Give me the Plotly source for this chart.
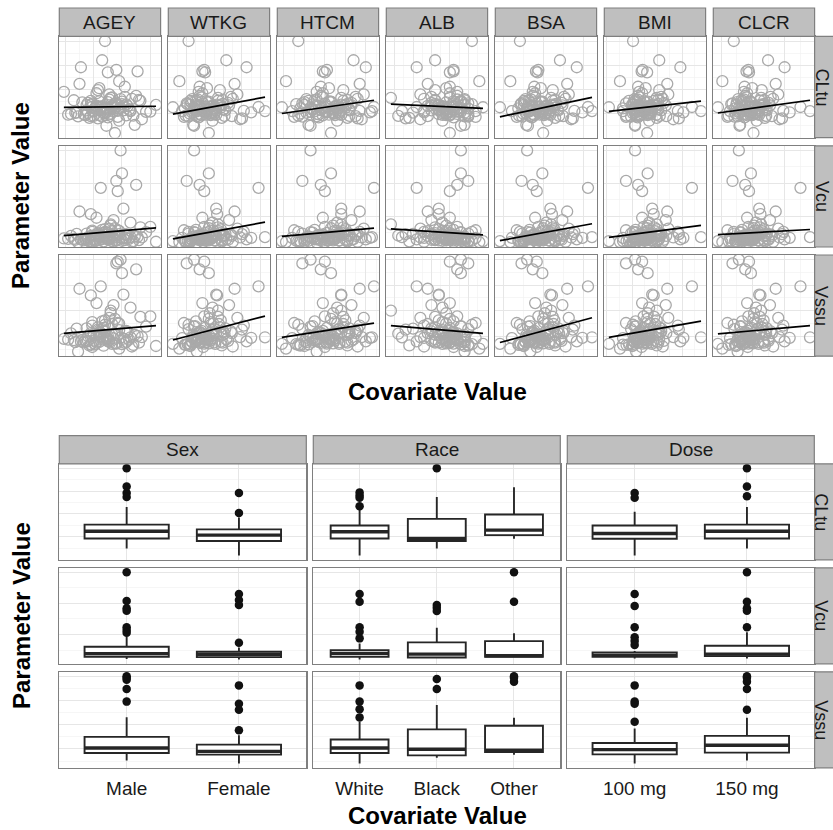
import math
import plotly.graph_objects as go

# ---------------- data ----------------
covariates = ["AGEY", "WTKG", "HTCM", "ALB", "BSA", "BMI", "CLCR"]
parameters = ["CLtu", "Vcu", "Vssu"]

agey = [45, 52, 38, 61, 29, 55, 47, 70, 41, 58,
        36, 49, 63, 44, 53, 27, 67, 50, 39, 57,
        48, 33, 60, 46, 74, 42, 54, 35, 65, 51,
        40, 59, 31, 48, 56, 22, 62, 45, 38, 69,
        53, 43, 80, 37, 50, 58, 30, 47, 64, 41,
        55, 26, 49, 71, 44, 60, 34, 52, 42, 77,
        46, 57, 39, 66, 51, 24, 48, 59, 36, 54,
        43, 62, 50, 32, 68, 45, 56, 40, 73, 47,
        84, 38, 53, 28, 61, 49, 44, 35, 58, 51,
        42, 66, 19, 55, 46, 72, 39, 50, 63, 44]
wtkg = [78, 85, 64, 92, 71, 99, 80, 74, 58, 88,
        105, 69, 76, 82, 95, 66, 110, 73, 86, 79,
        62, 90, 84, 70, 118, 77, 55, 97, 83, 72,
        101, 68, 125, 87, 60, 81, 108, 75, 93, 67,
        45, 96, 79, 98, 65, 89, 112, 63, 74, 91,
        84, 70, 130, 77, 100, 61, 86, 94, 80, 68,
        103, 57, 78, 88, 115, 72, 97, 66, 85, 106,
        120, 74, 69, 83, 59, 138, 79, 71, 94, 82,
        64, 109, 76, 90, 87, 68, 81, 102, 52, 75,
        89, 145, 73, 84, 62, 99, 122, 80, 70, 92]
htcm = [170, 174, 162, 178, 166, 181, 171, 168, 158, 176,
        183, 164, 169, 172, 179, 161, 186, 167, 175, 170,
        157, 177, 173, 165, 188, 169, 154, 180, 174, 166,
        182, 163, 190, 175, 159, 172, 185, 168, 178, 162,
        149, 179, 170, 181, 160, 176, 187, 158, 167, 177,
        173, 165, 192, 169, 182, 156, 175, 178, 171, 163,
        184, 155, 170, 176, 189, 166, 180, 161, 174, 183,
        186, 168, 164, 173, 157, 194, 171, 165, 179, 172,
        160, 185, 169, 177, 175, 163, 172, 182, 151, 167,
        176, 193, 166, 174, 159, 181, 187, 170, 164, 178]
alb = [4.1, 3.9, 4.3, 3.7, 4.4, 3.6, 4.0, 4.2, 4.5, 3.8,
       3.5, 4.2, 4.0, 3.9, 3.4, 4.4, 3.3, 4.1, 3.8, 4.0,
       4.6, 3.7, 4.3, 4.1, 3.2, 4.0, 4.7, 3.6, 3.9, 4.2,
       2.6, 4.3, 3.1, 3.8, 4.5, 4.0, 3.5, 4.1, 3.7, 4.4,
       4.9, 3.6, 4.2, 2.9, 4.3, 3.9, 3.4, 4.5, 4.1, 3.8,
       4.0, 4.4, 3.3, 4.1, 3.7, 4.6, 3.9, 2.4, 4.0, 4.3,
       3.6, 4.7, 4.1, 3.8, 3.2, 4.2, 3.7, 4.4, 3.9, 3.5,
       2.8, 4.0, 4.3, 3.9, 4.5, 3.1, 4.1, 4.2, 3.6, 3.9,
       4.4, 3.4, 4.0, 3.0, 3.8, 4.3, 4.1, 3.5, 4.8, 4.0,
       3.7, 2.7, 4.2, 3.9, 4.5, 3.6, 3.3, 4.0, 4.4, 3.8]
bsa = [1.92, 2.01, 1.75, 2.08, 1.83, 2.15, 1.94, 1.86, 1.68, 2.04,
       2.22, 1.80, 1.88, 1.96, 2.12, 1.77, 2.27, 1.85, 2.00, 1.91,
       1.70, 2.06, 1.98, 1.82, 2.34, 1.89, 1.60, 2.13, 1.99, 1.84,
       2.19, 1.79, 2.41, 2.02, 1.72, 1.95, 2.25, 1.87, 2.10, 1.78,
       1.45, 2.11, 1.93, 2.14, 1.76, 2.05, 2.29, 1.74, 1.86, 2.07,
       1.99, 1.81, 2.48, 1.90, 2.17, 1.71, 2.00, 2.09, 1.94, 1.80,
       2.20, 1.66, 1.91, 2.03, 2.31, 1.85, 2.13, 1.77, 1.98, 2.23,
       2.36, 1.88, 1.83, 1.97, 1.69, 2.55, 1.93, 1.82, 2.11, 1.96,
       1.75, 2.24, 1.89, 2.06, 2.02, 1.80, 1.95, 2.18, 1.58, 1.87,
       2.04, 2.60, 1.86, 1.99, 1.73, 2.14, 2.38, 1.92, 1.81, 2.08]
bmi = [27.0, 28.1, 24.4, 29.0, 25.8, 30.2, 27.3, 26.2, 23.2, 28.4,
       31.3, 25.6, 26.6, 27.7, 29.6, 25.5, 31.1, 26.1, 28.1, 27.0,
       25.2, 28.7, 28.1, 25.7, 33.2, 27.0, 23.2, 29.9, 27.4, 26.1,
       30.5, 25.6, 34.6, 28.4, 23.8, 27.3, 30.8, 26.6, 29.3, 25.6,
       20.4, 30.4, 27.3, 29.9, 25.4, 28.6, 32.0, 25.2, 26.5, 28.9,
       28.0, 25.7, 35.2, 26.9, 30.2, 25.1, 28.1, 29.9, 27.3, 25.6,
       30.4, 23.8, 26.9, 28.4, 32.2, 26.1, 29.9, 25.5, 28.1, 31.7,
       34.3, 26.2, 25.8, 27.7, 23.9, 36.9, 27.1, 26.0, 29.4, 27.7,
       25.0, 31.8, 26.6, 28.7, 28.4, 25.6, 27.4, 30.8, 22.6, 26.6,
       28.7, 38.7, 26.4, 27.9, 24.8, 30.2, 34.1, 28.0, 25.4, 29.8]
clcr = [95, 102, 84, 110, 76, 118, 98, 88, 72, 106,
        125, 81, 92, 99, 115, 79, 132, 87, 103, 94,
        70, 108, 97, 83, 142, 91, 64, 116, 100, 86,
        121, 78, 150, 104, 68, 96, 128, 89, 112, 80,
        45, 114, 93, 119, 75, 107, 136, 73, 88, 109,
        101, 82, 158, 90, 120, 66, 99, 113, 95, 80,
        124, 60, 92, 105, 140, 85, 117, 77, 98, 127,
        146, 87, 81, 97, 62, 175, 93, 83, 111, 96,
        74, 130, 90, 108, 103, 79, 95, 122, 52, 88,
        104, 190, 86, 100, 71, 118, 148, 94, 82, 110]

cltu = [12.4, 9.8, 15.1, 11.2, 8.7, 13.9, 10.5, 17.2, 12.0, 6.9,
        14.3, 11.8, 9.1, 20.4, 13.1, 10.2, 16.0, 8.3, 12.7, 11.0,
        40.0, 9.6, 14.8, 12.9, 7.5, 18.3, 10.9, 13.4, 11.5, 15.7,
        8.9, 12.2, 29.1, 10.0, 14.1, 9.4, 16.8, 11.3, 13.6, 5.2,
        12.5, 19.6, 10.7, 8.1, 14.6, 11.9, 22.2, 9.9, 13.0, 12.1,
        1.8, 15.4, 10.4, 27.4, 11.6, 13.8, 9.2, 16.4, 12.8, 10.6,
        32.0, 8.5, 14.0, 11.1, 17.8, 9.7, 12.3, 15.9, 10.1, 13.3,
        7.9, 21.0, 11.4, 14.5, 9.0, 12.6, 28.0, 10.8, 15.2, 11.7,
        13.5, 8.8, 16.6, 10.3, 12.9, 4.8, 14.9, 11.2, 23.3, 9.5,
        13.2, 10.9, 18.9, 12.0, 8.6, 15.5, 11.0, 27.0, 13.7, 9.3]
vcu = [35, 71, 25, 123, 20, 38, 49, 195, 24, 45,
       28, 33, 44, 27, 54, 28, 22, 32, 56, 176,
       52, 26, 230, 58, 35, 95, 34, 28, 31, 30,
       41, 300, 29, 43, 207, 31, 44, 41, 106, 38,
       24, 48, 67, 23, 29, 55, 114, 23, 43, 25,
       63, 31, 34, 37, 42, 25, 30, 75, 27, 51,
       30, 57, 21, 80, 62, 40, 60, 35, 36, 88,
       45, 27, 50, 30, 24, 186, 26, 29, 66, 34,
       22, 40, 39, 46, 33, 36, 39, 47, 21, 28,
       38, 36, 32, 26, 47, 27, 52, 37, 33, 42]
vssu = [98, 190, 68, 263, 40, 106, 133, 362, 67, 124,
        82, 92, 121, 78, 148, 77, 60, 89, 155, 392,
        145, 76, 347, 158, 97, 230, 93, 79, 87, 85,
        110, 400, 80, 118, 385, 87, 119, 113, 260, 105,
        70, 135, 178, 64, 81, 150, 286, 63, 117, 70,
        168, 85, 94, 101, 116, 69, 84, 200, 76, 138,
        88, 152, 58, 212, 172, 111, 162, 95, 100, 222,
        126, 74, 140, 86, 66, 295, 71, 83, 176, 94,
        62, 112, 108, 130, 91, 99, 107, 131, 52, 78,
        104, 96, 90, 72, 128, 75, 142, 102, 78, 114]

# linear-fit values at the covariate minimum (lo) and maximum (hi)
fit_lo_cltu = [12.4, 9.6, 9.9, 13.8, 8.5, 10.8, 10.1]
fit_hi_cltu = [12.9, 16.7, 15.4, 12.0, 16.6, 15.0, 15.4]
fit_lo_vcu = [40.7, 30.5, 38.5, 61.4, 25.2, 35.4, 43.8]
fit_hi_vcu = [64.5, 81.7, 63.2, 42.8, 76.8, 71.6, 59.2]
fit_lo_vssu = [111.4, 85.2, 95.6, 142.0, 75.7, 95.6, 109.1]
fit_hi_vssu = [142.0, 178.9, 151.1, 111.4, 172.6, 159.1, 142.0]

# categorical covariates
groups = ["Sex", "Race", "Dose"]
sex_levels = ["Male", "Female"]
race_levels = ["White", "Black", "Other"]
dose_levels = ["100 mg", "150 mg"]

# box statistics, levels in order: Male, Female, White, Black, Other, 100 mg, 150 mg
cltu_q1 = [9.2, 8.1, 9.2, 8.1, 10.7, 9.1, 9.2]
cltu_med = [12.4, 10.7, 12.2, 9.2, 12.9, 11.4, 12.4]
cltu_q3 = [15.3, 13.2, 14.9, 17.8, 19.7, 14.9, 15.3]
cltu_lo = [4.8, 1.8, 1.8, 4.8, 9.1, 1.8, 4.8]
cltu_hi = [23.0, 18.4, 22.2, 27.4, 31.6, 20.9, 23.0]
cltu_out = [[40.0, 32.0, 29.1, 27.4], [29.1, 20.4], [29.4, 28.0, 27.0, 23.3], [40.0], [],
            [29.1, 27.0], [40.0, 32.0, 27.7]]

vcu_q1 = [28.4, 27.4, 28.4, 26.4, 28.4, 28.4, 30.6]
vcu_med = [38.7, 36.1, 39.3, 37.1, 31.6, 33.8, 37.1]
vcu_q3 = [60.5, 44.5, 49.9, 74.7, 78.9, 42.5, 63.8]
vcu_lo = [21.0, 20.0, 20.0, 23.2, 25.1, 23.2, 23.2]
vcu_hi = [92.7, 58.6, 71.5, 121.7, 103.7, 46.7, 106.9]
vcu_out = [[300, 207.6, 184.1, 176.4, 123.0, 114.3, 105.6], [230.1, 210.8, 194.7, 73.4],
           [230.1, 205.4, 123.0, 108.8, 87.6], [194.7, 186.0, 175.4], [300, 205.4],
           [230.1, 191.5, 123.0, 90.8, 78.9, 66.0], [300, 205.4, 184.1, 176.4, 123.0]]

vssu_q1 = [82.9, 76.2, 82.9, 73.3, 87.0, 77.5, 84.5]
vssu_med = [103.7, 89.9, 103.7, 98.3, 94.1, 97.0, 114.9]
vssu_q3 = [149.5, 117.8, 138.6, 180.3, 195.2, 124.5, 153.6]
vssu_lo = [52.5, 40.0, 40.0, 63.7, 76.2, 40.0, 52.5]
vssu_hi = [230.2, 156.5, 211.9, 281.4, 228.5, 184.4, 228.5]
vssu_out = [[400, 393, 385, 347, 295], [362, 286, 261, 177], [362, 295, 264, 230], [388, 347],
            [400, 393, 377], [362, 295, 286, 212], [400, 393, 377, 347, 261]]

# ---------------- assembly ----------------
cov_data = [agey, wtkg, htcm, alb, bsa, bmi, clcr]
par_data = [cltu, vcu, vssu]
fit_lo = [fit_lo_cltu, fit_lo_vcu, fit_lo_vssu]
fit_hi = [fit_hi_cltu, fit_hi_vcu, fit_hi_vssu]
box_q1 = [cltu_q1, vcu_q1, vssu_q1]
box_med = [cltu_med, vcu_med, vssu_med]
box_q3 = [cltu_q3, vcu_q3, vssu_q3]
box_lo = [cltu_lo, vcu_lo, vssu_lo]
box_hi = [cltu_hi, vcu_hi, vssu_hi]
box_out = [cltu_out, vcu_out, vssu_out]
group_levels = [sex_levels, race_levels, dose_levels]

W, H = 833, 830
FONT = "Liberation Sans, Arial, Helvetica, sans-serif"
BORDER = "#7f7f7f"
STRIP_FILL = "#bfbfbf"
GRID_MAJ = "#e6e6e6"
GRID_MIN = "#f2f2f2"
TEXT = "#1a1a1a"
BOXLINE = "#262626"

TOP_COL_L, TOP_COL_W, TOP_COL_P = 59.3, 101.3, 109.0
TOP_ROW_T, TOP_ROW_H = [36.4, 145.8, 255.0], 101.2
TOP_STRIP_T = 8.0
BOT_COL_L, BOT_COL_W = [59.3, 313.3, 567.3], 247.0
BOT_ROW_T, BOT_ROW_H = [463.8, 567.8, 671.8], 96.0
BOT_STRIP_T = 435.7
RIGHT_EDGE = 814.6
RSTRIP_W = 28.4
RSTRIP_TEXT_X = 821.5


def fx(px):
    return px / W


def fy(py):
    return 1 - py / H


def padded(vals, frac=0.05):
    lo, hi = min(vals), max(vals)
    s = hi - lo
    return [lo - frac * s, hi + frac * s]


def nice_step(span):
    raw = span / 4.0
    mag = 10 ** math.floor(math.log10(raw))
    r = raw / mag
    if r < 1.5:
        m = 1
    elif r < 3:
        m = 2
    elif r < 7:
        m = 5
    else:
        m = 10
    return m * mag


def axname(k, letter):
    return letter + ("" if k == 1 else str(k))


def lay_axis(k, letter):
    return (letter + "axis") + ("" if k == 1 else str(k))


def cont_axis(domain, rng, anchor):
    step = nice_step(rng[1] - rng[0])
    return dict(domain=domain, range=rng, anchor=anchor, showline=True, mirror=True,
                linecolor=BORDER, linewidth=1.2, showgrid=True, gridcolor=GRID_MAJ,
                gridwidth=1, zeroline=False, showticklabels=False, ticks="",
                tick0=0, dtick=step,
                minor=dict(showgrid=True, gridcolor=GRID_MIN, gridwidth=0.7,
                           tick0=0, dtick=step / 2),
                fixedrange=True)


fig = go.Figure()
axes = {}
shapes = []
annotations = []

# ---------- top grid: scatter + fit ----------
for r, pvals in enumerate(par_data):
    yr = padded(pvals)
    top = TOP_ROW_T[r]
    for c, cvals in enumerate(cov_data):
        k = r * 7 + c + 1
        xa, ya = axname(k, "x"), axname(k, "y")
        left = TOP_COL_L + c * TOP_COL_P
        xr = padded(cvals)
        axes[lay_axis(k, "x")] = cont_axis([fx(left), fx(left + TOP_COL_W)], xr, ya)
        axes[lay_axis(k, "y")] = cont_axis([fy(top + TOP_ROW_H), fy(top)], yr, xa)
        fig.add_trace(go.Scatter(
            x=cvals, y=pvals, mode="markers", xaxis=xa, yaxis=ya,
            marker=dict(symbol="circle-open", size=11, color="#a9a9a9",
                        line=dict(width=1.3, color="#a9a9a9")),
            hoverinfo="skip", showlegend=False))
        fig.add_trace(go.Scatter(
            x=[min(cvals), max(cvals)], y=[fit_lo[r][c], fit_hi[r][c]],
            mode="lines", xaxis=xa, yaxis=ya,
            line=dict(color="black", width=1.7),
            hoverinfo="skip", showlegend=False))

# top strips
for c, name in enumerate(covariates):
    left = TOP_COL_L + c * TOP_COL_P
    shapes.append(dict(type="rect", xref="paper", yref="paper",
                       x0=fx(left), x1=fx(left + TOP_COL_W),
                       y0=fy(TOP_ROW_T[0]), y1=fy(TOP_STRIP_T),
                       fillcolor=STRIP_FILL, line=dict(color=BORDER, width=1.2)))
    annotations.append(dict(x=fx(left + TOP_COL_W / 2), y=fy((TOP_STRIP_T + TOP_ROW_T[0]) / 2),
                            xref="paper", yref="paper", text=name, showarrow=False,
                            xanchor="center", yanchor="middle",
                            font=dict(family=FONT, size=19, color=TEXT)))
for r, name in enumerate(parameters):
    top = TOP_ROW_T[r]
    shapes.append(dict(type="rect", xref="paper", yref="paper",
                       x0=fx(RIGHT_EDGE), x1=fx(RIGHT_EDGE + RSTRIP_W),
                       y0=fy(top + TOP_ROW_H), y1=fy(top),
                       fillcolor=STRIP_FILL, line=dict(color=BORDER, width=1.2)))
    annotations.append(dict(x=fx(RSTRIP_TEXT_X), y=fy(top + TOP_ROW_H / 2),
                            xref="paper", yref="paper", text=name, showarrow=False,
                            textangle=90, xanchor="center", yanchor="middle",
                            font=dict(family=FONT, size=18, color=TEXT)))

# ---------- bottom grid: boxplots ----------
offsets = [0, 2, 5]
for r in range(3):
    yr = padded(par_data[r])
    top = BOT_ROW_T[r]
    for g, levels in enumerate(group_levels):
        k = 22 + r * 3 + g
        xa, ya = axname(k, "x"), axname(k, "y")
        left = BOT_COL_L[g]
        n = len(levels)
        pos = list(range(n))
        sl = slice(offsets[g], offsets[g] + n)
        axes[lay_axis(k, "x")] = dict(
            domain=[fx(left), fx(left + BOT_COL_W)], range=[-0.6, n - 0.4], anchor=ya,
            showline=True, mirror=True, linecolor=BORDER, linewidth=1.2,
            showgrid=True, gridcolor=GRID_MAJ, gridwidth=1, zeroline=False,
            tickmode="array", tickvals=pos, ticktext=levels,
            showticklabels=(r == 2), ticks="outside" if r == 2 else "",
            ticklen=3, tickcolor="rgba(0,0,0,0)",
            tickfont=dict(family=FONT, size=19, color=TEXT), fixedrange=True)
        axes[lay_axis(k, "y")] = cont_axis([fy(top + BOT_ROW_H), fy(top)], yr, xa)
        fig.add_trace(go.Box(
            x=pos, q1=box_q1[r][sl], median=box_med[r][sl], q3=box_q3[r][sl],
            lowerfence=box_lo[r][sl], upperfence=box_hi[r][sl],
            boxpoints=False, width=0.75, whiskerwidth=0, fillcolor="white",
            line=dict(color=BOXLINE, width=1.9), orientation="v",
            xaxis=xa, yaxis=ya, hoverinfo="skip", showlegend=False))
        mx, my = [], []
        for p, m in zip(pos, box_med[r][sl]):
            mx += [p - 0.375, p + 0.375, None]
            my += [m, m, None]
        fig.add_trace(go.Scatter(x=mx, y=my, mode="lines", xaxis=xa, yaxis=ya,
                                 line=dict(color=BOXLINE, width=3.4),
                                 hoverinfo="skip", showlegend=False))
        ox, oy = [], []
        for p, outs in zip(pos, box_out[r][sl]):
            ox += [p] * len(outs)
            oy += outs
        fig.add_trace(go.Scatter(x=ox, y=oy, mode="markers", xaxis=xa, yaxis=ya,
                                 marker=dict(size=8.5, color="#111111"),
                                 hoverinfo="skip", showlegend=False))

for g, name in enumerate(groups):
    left = BOT_COL_L[g]
    shapes.append(dict(type="rect", xref="paper", yref="paper",
                       x0=fx(left), x1=fx(left + BOT_COL_W),
                       y0=fy(BOT_ROW_T[0]), y1=fy(BOT_STRIP_T),
                       fillcolor=STRIP_FILL, line=dict(color=BORDER, width=1.2)))
    annotations.append(dict(x=fx(left + BOT_COL_W / 2), y=fy((BOT_STRIP_T + BOT_ROW_T[0]) / 2),
                            xref="paper", yref="paper", text=name, showarrow=False,
                            xanchor="center", yanchor="middle",
                            font=dict(family=FONT, size=19, color=TEXT)))
for r, name in enumerate(parameters):
    top = BOT_ROW_T[r]
    shapes.append(dict(type="rect", xref="paper", yref="paper",
                       x0=fx(RIGHT_EDGE), x1=fx(RIGHT_EDGE + RSTRIP_W),
                       y0=fy(top + BOT_ROW_H), y1=fy(top),
                       fillcolor=STRIP_FILL, line=dict(color=BORDER, width=1.2)))
    annotations.append(dict(x=fx(RSTRIP_TEXT_X), y=fy(top + BOT_ROW_H / 2),
                            xref="paper", yref="paper", text=name, showarrow=False,
                            textangle=90, xanchor="center", yanchor="middle",
                            font=dict(family=FONT, size=18, color=TEXT)))

# axis titles
title_font = dict(family=FONT, size=24, color="black")
for (tx, ty, txt, ang) in [(21, 196, "<b>Parameter Value</b>", -90),
                           (21, 616, "<b>Parameter Value</b>", -90),
                           (437, 392, "<b>Covariate Value</b>", 0),
                           (437, 815.5, "<b>Covariate Value</b>", 0)]:
    annotations.append(dict(x=fx(tx), y=fy(ty), xref="paper", yref="paper", text=txt,
                            showarrow=False, textangle=ang, xanchor="center",
                            yanchor="middle", borderpad=0, font=title_font))

fig.update_layout(width=W, height=H, margin=dict(l=0, r=0, t=0, b=0, pad=0),
                  paper_bgcolor="white", plot_bgcolor="white",
                  showlegend=False, shapes=shapes, annotations=annotations,
                  font=dict(family=FONT), **axes)

fig.write_html("out.html", include_plotlyjs=True, full_html=True,
               config={"displayModeBar": False, "staticPlot": True},
               post_script="document.body.style.margin='0';document.body.style.overflow='hidden';")
